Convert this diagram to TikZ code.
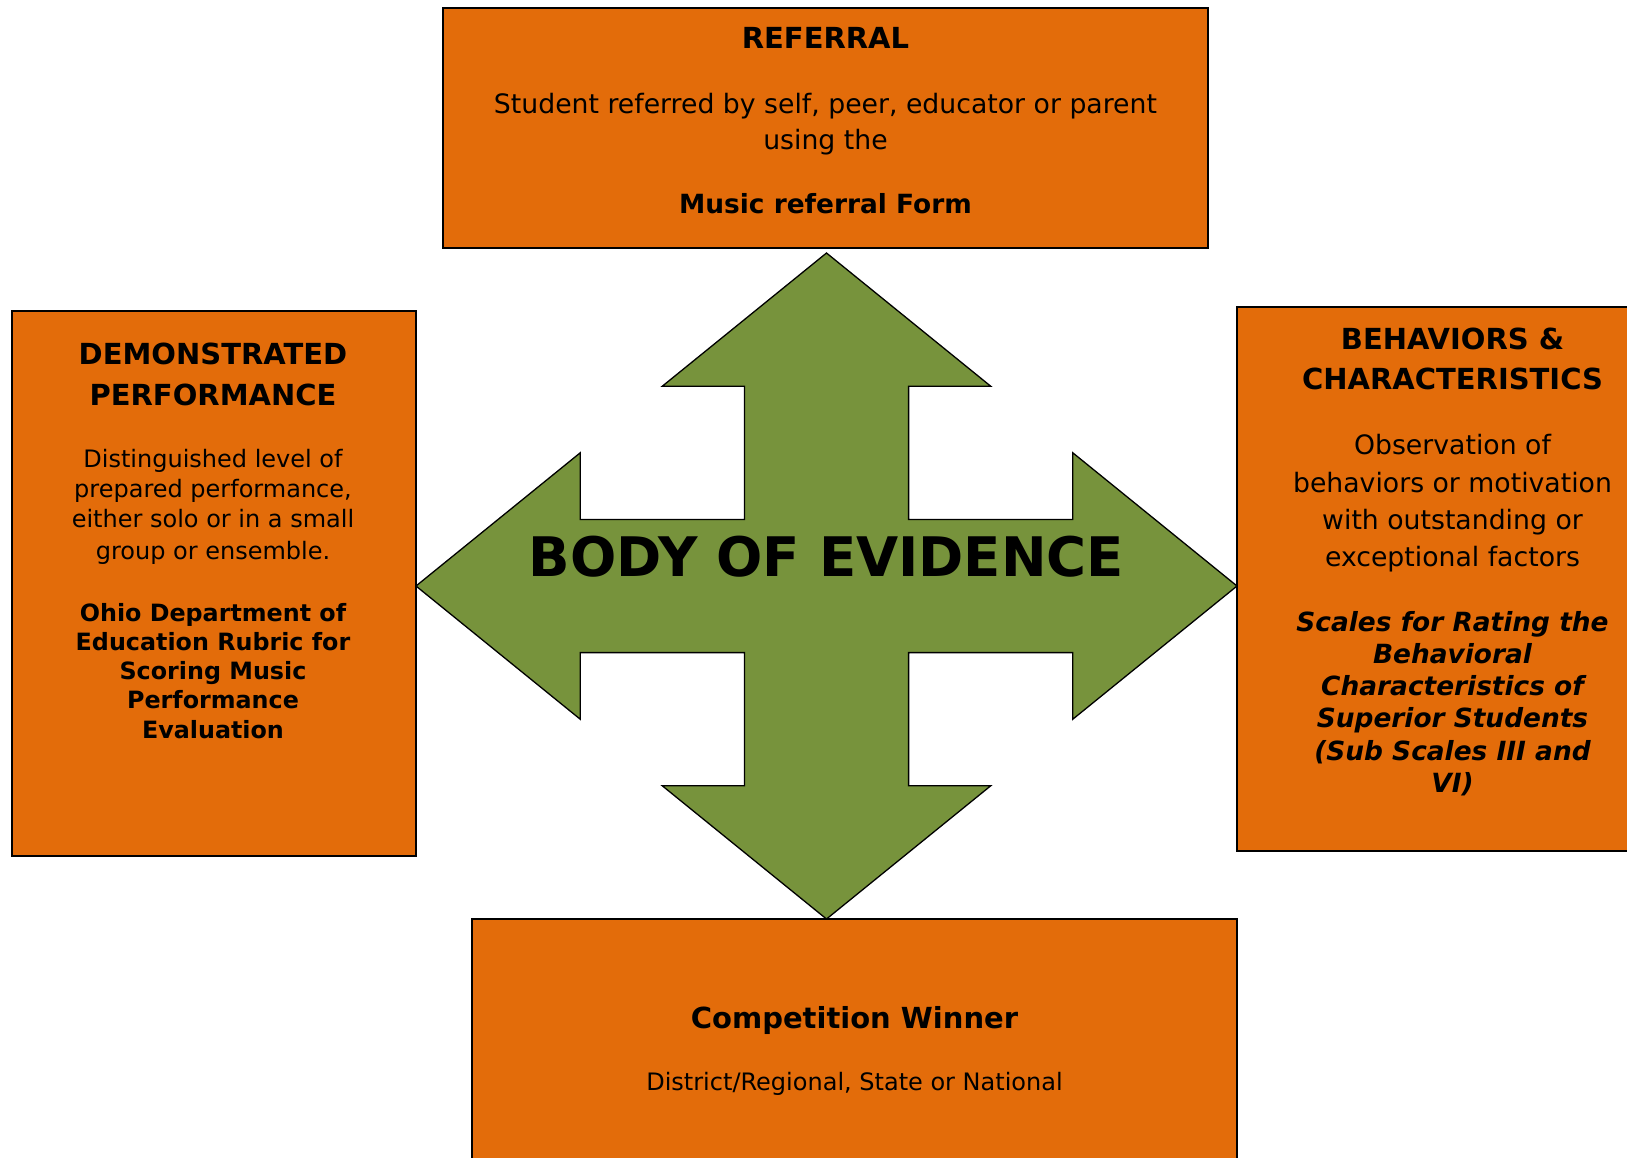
\documentclass[tikz,border=0pt]{standalone}
\usepackage{fontspec}
\setmainfont{DejaVu Sans}
\definecolor{boxorange}{HTML}{E36C0A}
\definecolor{arrowgreen}{HTML}{77933C}
\begin{document}
\begin{tikzpicture}[x=1pt,y=-1pt,
  box/.style={draw=black,line width=2pt,fill=boxorange,rectangle,inner sep=0pt},
  ln/.style={anchor=base,inner sep=0pt,text=black},
  ttl/.style={ln,font=\fontsize{29pt}{35pt}\selectfont\bfseries},
  bodyA/.style={ln,font=\fontsize{26.7pt}{32pt}\selectfont},
  boldA/.style={ln,font=\fontsize{26.4pt}{32pt}\selectfont\bfseries},
  bodyB/.style={ln,font=\fontsize{24pt}{29pt}\selectfont},
  boldB/.style={ln,font=\fontsize{23.8pt}{29pt}\selectfont\bfseries},
  boldit/.style={ln,font=\fontsize{26.4pt}{32pt}\selectfont\bfseries\itshape},
  bodyC/.style={ln,font=\fontsize{24pt}{29pt}\selectfont},
  bigttl/.style={ln,font=\fontsize{54.5pt}{60pt}\selectfont\bfseries}]
\useasboundingbox (0,0) rectangle (1627,1157);
\clip (0,0) rectangle (1627,1157);

% boxes
\node[box,minimum width=765pt,minimum height=240pt] (top) at (825.5,128) {};
\node[box,minimum width=404pt,minimum height=545pt] (left) at (214,583.5) {};
\node[box,minimum width=403pt,minimum height=544pt] (right) at (1438.5,579) {};
\node[box,minimum width=765pt,minimum height=251pt] (bottom) at (854.5,1044.5) {};

% quad arrow
\begin{scope}[shift={(826.5,586)},x=410.5pt,y=-333pt]
\draw[fill=arrowgreen,draw=black,line width=1.3pt,line join=miter]
  (0,1) -- (0.4,0.6) -- (0.2,0.6) -- (0.2,0.2) -- (0.6,0.2) -- (0.6,0.4) -- (1,0)
  -- (0.6,-0.4) -- (0.6,-0.2) -- (0.2,-0.2) -- (0.2,-0.6) -- (0.4,-0.6) -- (0,-1)
  -- (-0.4,-0.6) -- (-0.2,-0.6) -- (-0.2,-0.2) -- (-0.6,-0.2) -- (-0.6,-0.4) -- (-1,0)
  -- (-0.6,0.4) -- (-0.6,0.2) -- (-0.2,0.2) -- (-0.2,0.6) -- (-0.4,0.6) -- cycle;
\end{scope}
\node[bigttl] (boe) at (826.5,576) {BODY OF EVIDENCE};

% top box text
\node[ttl] (t1) at (825.5,48) {REFERRAL};
\node[bodyA] (t2) at (825.5,113) {Student referred by self, peer, educator or parent};
\node[bodyA] (t3) at (825.5,149) {using the};
\node[boldA] (t4) at (825.5,213.5) {Music referral Form};

% left box text
\node[ttl] (l1) at (213,364) {DEMONSTRATED};
\node[ttl] (l2) at (213,405) {PERFORMANCE};
\node[bodyB] (l3) at (213,467) {Distinguished level of};
\node[bodyB] (l4) at (213,497.5) {prepared performance,};
\node[bodyB] (l5) at (213,527) {either solo or in a small};
\node[bodyB] (l6) at (213,559.5) {group or ensemble.};
\node[boldB] (l7) at (213,621) {Ohio Department of};
\node[boldB] (l8) at (213,650.5) {Education Rubric for};
\node[boldB] (l9) at (213,679.5) {Scoring Music};
\node[boldB] (l10) at (213,708.5) {Performance};
\node[boldB] (l11) at (213,738.5) {Evaluation};

% right box text
\node[ttl] (r1) at (1452.5,349) {BEHAVIORS \&};
\node[ttl] (r2) at (1452.5,389.5) {CHARACTERISTICS};
\node[bodyA] (r3) at (1452.5,454.5) {Observation of};
\node[bodyA] (r4) at (1452.5,492.5) {behaviors or motivation};
\node[bodyA] (r5) at (1452.5,529.5) {with outstanding or};
\node[bodyA] (r6) at (1452.5,566) {exceptional factors};
\node[boldit] (r7) at (1452.5,631) {Scales for Rating the};
\node[boldit] (r8) at (1452.5,663.5) {Behavioral};
\node[boldit] (r9) at (1452.5,695.5) {Characteristics of};
\node[boldit] (r10) at (1452.5,727.5) {Superior Students};
\node[boldit] (r11) at (1452.5,760) {(Sub Scales III and};
\node[boldit] (r12) at (1452.5,792) {VI)};

% bottom box text
\node[ttl] (b1) at (854.5,1028) {Competition Winner};
\node[bodyC] (b2) at (854.5,1090) {District/Regional, State or National};
\end{tikzpicture}
\end{document}
